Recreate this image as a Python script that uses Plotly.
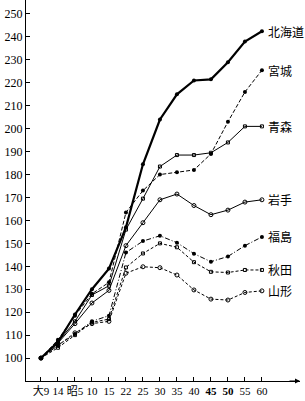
import plotly.graph_objects as go

categories = ["大9", "14", "昭5", "10", "15", "22", "25", "30", "35", "40", "<b>45</b>", "<b>50</b>", "55", "60"]

hokkaido = [100, 107, 119, 130, 139, 157, 184.5, 204, 215, 221, 221.5, 229, 238, 242.5]
miyagi = [100, 108, 118.5, 128, 133, 163.5, 173, 180, 181, 182, 189, 203, 216, 225.5]
aomori = [100, 107, 116, 127.5, 131.5, 156, 169.5, 183.5, 188.5, 188.5, 189.5, 194, 201, 201]
iwate = [100, 106.5, 115, 124, 129.5, 149, 159, 169, 171.5, 166.5, 162.5, 164.5, 168, 169]
fukushima = [100, 105.5, 110.5, 116, 118.5, 146, 151, 153.3, 150.3, 145.5, 142, 144.3, 149, 152.8]
akita = [100, 104.5, 110, 115.5, 117, 139.5, 145.6, 150, 148.3, 141.8, 137.6, 137.3, 138.4, 138.4]
yamagata = [100, 105.5, 111, 115, 116, 137, 139.8, 139.4, 136.2, 129.7, 125.7, 125.3, 128.6, 129.3]

y_ticks = list(range(100, 251, 10))

series = [
    ("北海道", hokkaido, dict(width=2.2, dash="solid"), dict(symbol="circle", size=4, color="black")),
    ("宮城", miyagi, dict(width=1, dash="4px,2px"), dict(symbol="circle", size=4, color="black")),
    ("青森", aomori, dict(width=1, dash="solid"), dict(symbol="square-open", size=3, color="black", line=dict(width=1))),
    ("岩手", iwate, dict(width=1, dash="solid"), dict(symbol="circle-open", size=4, color="black", line=dict(width=1))),
    ("福島", fukushima, dict(width=1, dash="5px,2px,1px,2px"), dict(symbol="circle", size=4, color="black")),
    ("秋田", akita, dict(width=1, dash="3px,2px"), dict(symbol="square-open", size=3, color="black", line=dict(width=1))),
    ("山形", yamagata, dict(width=1, dash="3px,2px"), dict(symbol="circle-open", size=4, color="black", line=dict(width=1))),
]

fig = go.Figure()
xs = list(range(len(categories)))
for name, vals, ln, mk in series:
    fig.add_trace(go.Scatter(
        x=xs, y=vals, mode="lines+markers", name=name,
        line=dict(color="black", **ln), marker=mk, showlegend=False,
        hoverinfo="skip"))
    fig.add_annotation(x=xs[-1], y=vals[-1], xref="x", yref="y", text=name,
                       showarrow=False, xanchor="left", yanchor="middle", xshift=4,
                       font=dict(family="Noto Sans CJK JP", size=12, color="black"))

# arrow at the end of x-axis
fig.add_annotation(x=1, y=0, xref="paper", yref="paper", ax=-12, ay=0,
                   axref="pixel", ayref="pixel", text="", showarrow=True,
                   arrowhead=2, arrowsize=1, arrowwidth=1, arrowcolor="black")

fig.update_layout(
    width=305, height=401,
    margin=dict(l=26, r=5, t=0, b=20),
    paper_bgcolor="white", plot_bgcolor="white",
    font=dict(family="Liberation Serif, Noto Sans CJK JP", size=12, color="black"),
    xaxis=dict(
        range=[-0.88, 15.24], tickmode="array", tickvals=xs, ticktext=categories,
        tickangle=0,
        showline=True, linecolor="black", linewidth=1.2, showgrid=False, zeroline=False,
        ticks="inside", ticklen=4, tickcolor="black", tickfont=dict(size=11),
    ),
    yaxis=dict(
        range=[90, 256.1], tickmode="array", tickvals=y_ticks,
        showline=True, linecolor="black", linewidth=1.2, showgrid=False, zeroline=False,
        ticks="inside", ticklen=4, tickcolor="black", tickfont=dict(size=12),
    ),
)

fig.write_html("out.html")
